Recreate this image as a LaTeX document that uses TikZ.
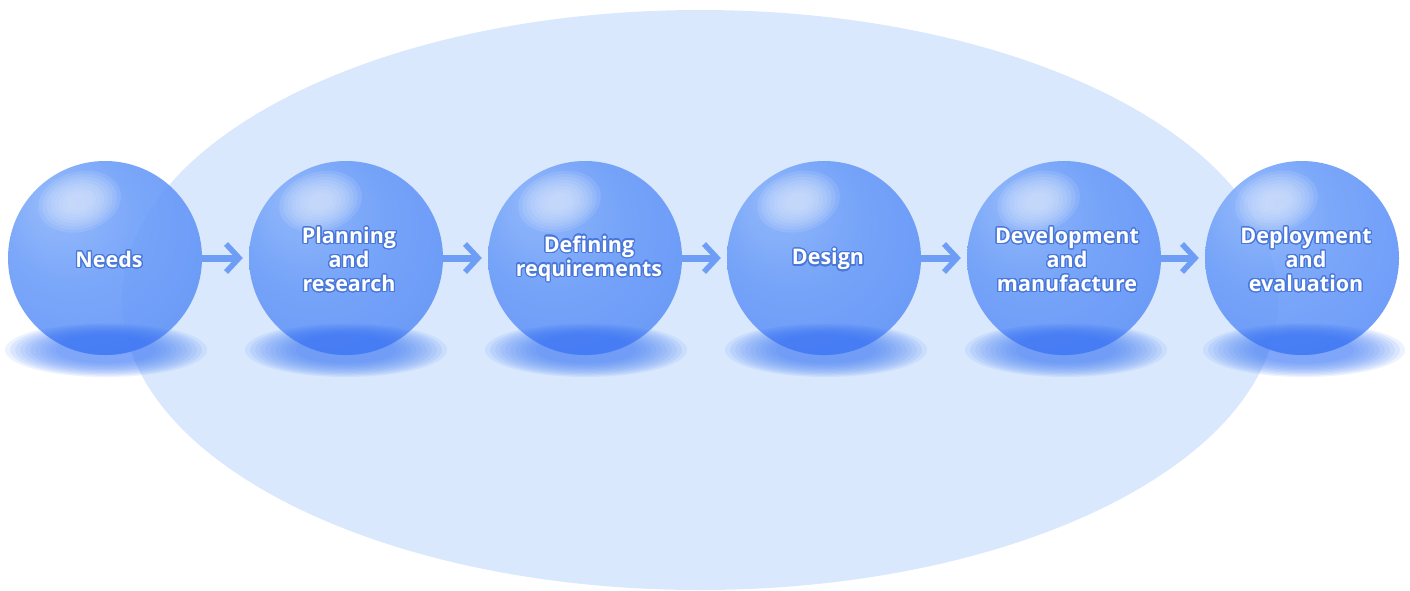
\documentclass[tikz,border=0pt]{standalone}
\usepackage{fontspec}
\setmainfont{Open Sans}
\usepackage{contour}
\contourlength{1.2pt}
\contournumber{24}
\usetikzlibrary{arrows.meta}
\definecolor{bigell}{HTML}{D9E8FD}
\definecolor{sA}{HTML}{8DB5FB}
\definecolor{sB}{HTML}{6C9DF8}
\definecolor{sC}{HTML}{5A8DF7}
\definecolor{sD}{HTML}{72A2F9}
\definecolor{hlc}{HTML}{E2ECFE}
\definecolor{floorc}{HTML}{4F85F6}
\definecolor{bandc}{HTML}{3A72F4}
\definecolor{arrc}{HTML}{6E9DF6}
\definecolor{glowc}{HTML}{4A78DA}
\newcommand{\glowtxt}[1]{\contour{glowc}{#1}}
\pgfdeclareradialshading{sph}{\pgfpoint{-14bp}{16bp}}{color(0bp)=(sA); color(18bp)=(sB); color(42bp)=(sC); color(50bp)=(sD)}
\tikzset{
  sphere/.style={circle, minimum size=194pt, inner sep=0pt, shading=sph, opacity=0.9},
  floor/.style={fill=floorc, opacity=0.11},
  band/.style={fill=bandc, opacity=0.13},
  hilite/.style={fill=hlc, opacity=0.13},
  flow/.style={draw=arrc, line width=7pt, -{Straight Barb[length=13pt,width=28pt,line width=5.5pt]}, shorten <=-1pt, shorten >=6pt},
  label/.style={text=white, font=\bfseries\fontsize{21.5}{24}\selectfont, align=center, inner sep=0pt}
}
\begin{document}
\begin{tikzpicture}[x=1pt,y=-1pt]
\useasboundingbox (0,0) rectangle (1410,590);
% big background ellipse
\fill[bigell] (700,300) ellipse [x radius=578, y radius=290];
% floor shadows
\foreach \x in {106,346,586,826,1066,1304}{
  \foreach \s in {1.0,0.95,0.9,0.85,0.8,0.75,0.7,0.65,0.6,0.55,0.5}{
    \fill[floor] (\x,350) ellipse [x radius=101*\s, y radius=27*\s];
  }
}
% spheres
\node[sphere] (n1) at (105,258) {};
\node[sphere] (n2) at (346,258) {};
\node[sphere] (n3) at (585,258) {};
\node[sphere] (n4) at (824,258) {};
\node[sphere] (n5) at (1064,258) {};
\node[sphere] (n6) at (1302,258) {};
% dark band and highlights
\foreach \n in {n1,n2,n3,n4,n5,n6}{
  \begin{scope}
    \clip (\n.center) circle [radius=97];
    \foreach \s in {1.0,0.92,0.84,0.76,0.68,0.6,0.52}{
      \fill[band] ([yshift=-88pt]\n.center) ellipse [x radius=88*\s, y radius=22*\s];
    }
  \end{scope}
  \begin{scope}[shift={(\n.center)}, rotate=15]
    \foreach \s in {1.0,0.9,0.8,0.7,0.6,0.5,0.4,0.3}{
      \fill[hilite] (-10,-61) ellipse [x radius=42*\s, y radius=30*\s];
    }
  \end{scope}
}
% arrows
\draw[flow] (n1) -- (n2);
\draw[flow] (n2) -- (n3);
\draw[flow] (n3) -- (n4);
\draw[flow] (n4) -- (n5);
\draw[flow] (n5) -- (n6);
% texts
\node[label] (t1) at (109,260) {\glowtxt{Needs}};
\node[label] (t2) at (349,260) {\glowtxt{Planning}\\\glowtxt{and}\\\glowtxt{research}};
\node[label] (t3) at (589,259) {\glowtxt{Defining}\\\glowtxt{requirements}};
\node[label] (t4) at (828,260) {\glowtxt{Design}};
\node[label] (t5) at (1067,260) {\glowtxt{Development}\\\glowtxt{and}\\\glowtxt{manufacture}};
\node[label] (t6) at (1306,260) {\glowtxt{Deployment}\\\glowtxt{and}\\\glowtxt{evaluation}};
\end{tikzpicture}
\end{document}
